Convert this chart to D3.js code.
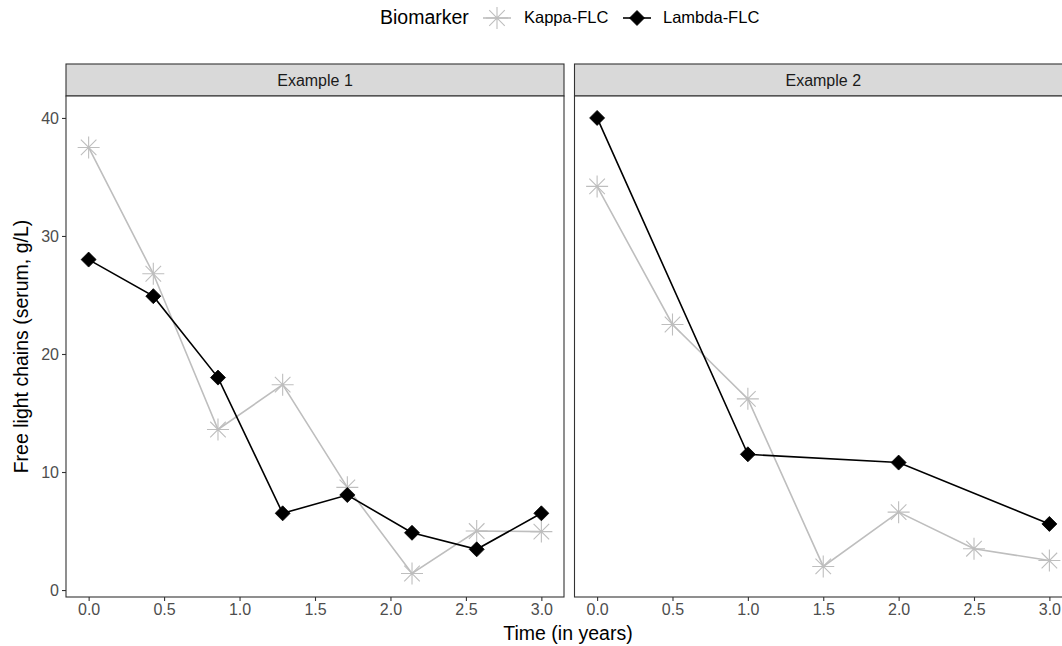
<!DOCTYPE html>
<html><head><meta charset="utf-8">
<script src="https://cdn.jsdelivr.net/npm/d3@7"></script>
<style>body{margin:0;background:#fff}svg{display:block}text{font-family:"Liberation Sans",Arial,sans-serif}</style>
</head><body><svg id="c" width="1062" height="646"></svg>
<script>
const panels = ["Example 1", "Example 2"];
const ex1Time = [0, 3/7, 6/7, 9/7, 12/7, 15/7, 18/7, 3];
const ex1Kappa = [37.5, 26.8, 13.6, 17.4, 8.7, 1.4, 5.0, 4.95];
const ex1Lambda = [28.0, 24.9, 18.0, 6.5, 8.05, 4.85, 3.45, 6.5];
const ex2KappaTime = [0, 0.5, 1, 1.5, 2, 2.5, 3];
const ex2Kappa = [34.2, 22.5, 16.2, 2.0, 6.6, 3.5, 2.5];
const ex2LambdaTime = [0, 1, 2, 3];
const ex2Lambda = [40.0, 11.5, 10.8, 5.6];
const xTicks = [0, 0.5, 1, 1.5, 2, 2.5, 3];
const yTicks = [0, 10, 20, 30, 40];
const seriesNames = ["Kappa-FLC", "Lambda-FLC"];

const data = [
  {panel: panels[0], series: [
    {name: seriesNames[0], pts: ex1Time.map((t,i)=>({t, v: ex1Kappa[i]}))},
    {name: seriesNames[1], pts: ex1Time.map((t,i)=>({t, v: ex1Lambda[i]}))}]},
  {panel: panels[1], series: [
    {name: seriesNames[0], pts: ex2KappaTime.map((t,i)=>({t, v: ex2Kappa[i]}))},
    {name: seriesNames[1], pts: ex2LambdaTime.map((t,i)=>({t, v: ex2Lambda[i]}))}]}
];

const svg = d3.select("#c");
const colors = {"Kappa-FLC": "#bebebe", "Lambda-FLC": "#000000"};
const panelTop = 96, panelBottom = 597, stripTop = 64;
const panelX = [[66, 564], [574.5, 1072]];
const y = d3.scaleLinear().domain([-0.59, 41.86]).range([panelBottom, panelTop]);
const FONT = "Liberation Sans, Arial, sans-serif";

function asterisk(r) {
  const p = d3.path();
  const d = r * Math.SQRT1_2;
  p.moveTo(-r, 0); p.lineTo(r, 0);
  p.moveTo(0, -r); p.lineTo(0, r);
  p.moveTo(-d, -d); p.lineTo(d, d);
  p.moveTo(-d, d); p.lineTo(d, -d);
  return p.toString();
}
function diamond(r) {
  return `M0,${-r}L${r},0L0,${r}L${-r},0Z`;
}

data.forEach((pd, pi) => {
  const [x0, x1] = panelX[pi];
  const x = d3.scaleLinear().domain([-0.15, 3.15]).range([x0, x1]);
  const g = svg.append("g");
  g.append("rect").attr("x", x0).attr("y", stripTop).attr("width", x1 - x0).attr("height", panelTop - stripTop)
    .attr("fill", "#d9d9d9").attr("stroke", "#333333").attr("stroke-width", 1.1);
  g.append("text").attr("x", (x0 + x1) / 2).attr("y", (stripTop + panelTop) / 2).attr("dy", "0.35em")
    .attr("text-anchor", "middle").attr("font-size", 16).attr("fill", "#1a1a1a").text(pd.panel);
  g.append("rect").attr("x", x0).attr("y", panelTop).attr("width", x1 - x0).attr("height", panelBottom - panelTop)
    .attr("fill", "#fff").attr("stroke", "#333333").attr("stroke-width", 1.1);
  const xa = g.append("g").attr("transform", `translate(0,${panelBottom})`)
    .call(d3.axisBottom(x).tickValues(xTicks).tickFormat(d3.format(".1f")).tickSize(4).tickPadding(3));
  xa.select(".domain").remove();
  xa.selectAll("line").attr("stroke", "#333333").attr("stroke-width", 1.1);
  xa.selectAll("text").attr("font-size", 16).attr("fill", "#4d4d4d").attr("font-family", FONT);
  if (pi === 0) {
    const ya = g.append("g").attr("transform", `translate(${x0},0)`)
      .call(d3.axisLeft(y).tickValues(yTicks).tickSize(4).tickPadding(3));
    ya.select(".domain").remove();
    ya.selectAll("line").attr("stroke", "#333333").attr("stroke-width", 1.1);
    ya.selectAll("text").attr("font-size", 16).attr("fill", "#4d4d4d").attr("font-family", FONT);
  }
  const line = d3.line().x(d => x(d.t)).y(d => y(d.v));
  pd.series.forEach(s => {
    g.append("path").datum(s.pts).attr("d", line).attr("fill", "none")
      .attr("stroke", colors[s.name]).attr("stroke-width", 1.6);
  });
  pd.series.forEach(s => {
    g.selectAll(null).data(s.pts).enter().append("path")
      .attr("transform", d => `translate(${x(d.t)},${y(d.v)})`)
      .attr("d", s.name === "Kappa-FLC" ? asterisk(11) : diamond(7.5))
      .attr("fill", s.name === "Kappa-FLC" ? "none" : colors[s.name])
      .attr("stroke", colors[s.name]).attr("stroke-width", s.name === "Kappa-FLC" ? 1.1 : 0.8);
  });
});

svg.append("text").attr("x", 568).attr("y", 640).attr("text-anchor", "middle").attr("font-size", 19.5)
  .attr("fill", "#000").text("Time (in years)");
svg.append("text").attr("transform", `translate(28,${(panelTop + panelBottom) / 2}) rotate(-90)`)
  .attr("text-anchor", "middle").attr("font-size", 19.5).attr("fill", "#000").text("Free light chains (serum, g/L)");

const leg = svg.append("g");
leg.append("text").attr("x", 380).attr("y", 17).attr("dy", "0.35em").attr("font-size", 19.5).text("Biomarker");
const keys = [{name: seriesNames[0], cx: 497, tx: 524}, {name: seriesNames[1], cx: 637, tx: 663}];
keys.forEach(k => {
  leg.append("line").attr("x1", k.cx - 14).attr("x2", k.cx + 14).attr("y1", 18).attr("y2", 18)
    .attr("stroke", colors[k.name]).attr("stroke-width", 1.6);
  leg.append("path").attr("transform", `translate(${k.cx},18)`)
    .attr("d", k.name === "Kappa-FLC" ? asterisk(11) : diamond(7.5))
    .attr("fill", k.name === "Kappa-FLC" ? "none" : colors[k.name])
    .attr("stroke", colors[k.name]).attr("stroke-width", k.name === "Kappa-FLC" ? 1.1 : 0.8);
  leg.append("text").attr("x", k.tx).attr("y", 17).attr("dy", "0.35em").attr("font-size", 16.5).text(k.name);
});
</script></body></html>
